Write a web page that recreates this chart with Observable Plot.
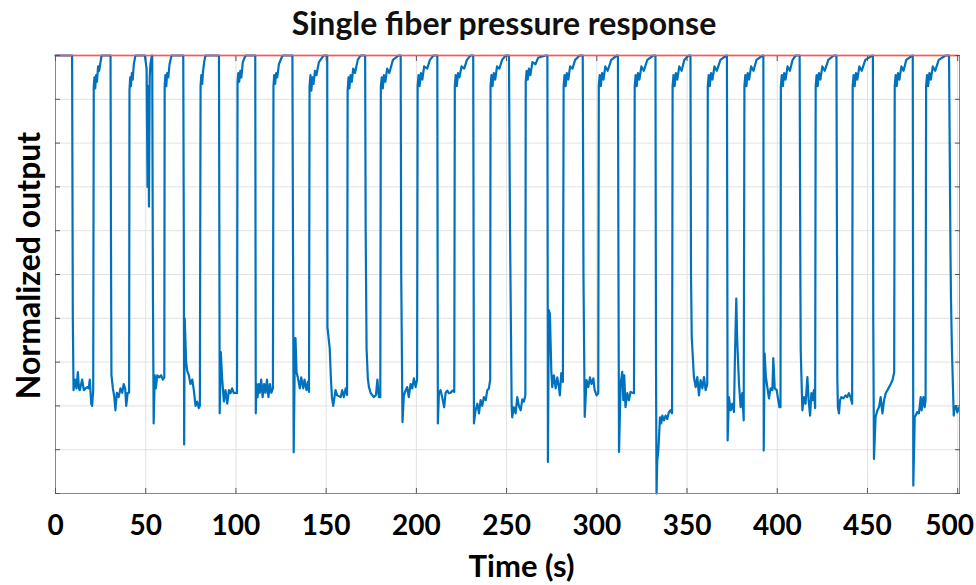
<!DOCTYPE html>
<html><head><meta charset="utf-8">
<script src="https://cdn.jsdelivr.net/npm/d3@7"></script>
<script src="https://cdn.jsdelivr.net/npm/@observablehq/plot@0.6"></script>
<style>
body{margin:0;background:#fff;font-family:Lato,sans-serif}
#title{width:976px;height:50px;box-sizing:border-box;padding-left:32px;text-align:center;font-family:Lato,sans-serif;font-weight:bold;font-size:32px;line-height:46px;color:#111}
</style></head><body>
<div id="title"></div>
<div id="chart"></div>
<script>
const titleText = "Single fiber pressure response";
const xLabel = "Time (s)";
const yLabel = "Normalized output";
const xTicks = [0, 50, 100, 150, 200, 250, 300, 350, 400, 450, 500];
const yGrid = [0, 0.1, 0.2, 0.3, 0.4, 0.5, 0.6, 0.7, 0.8, 0.9, 1.0];
const referenceLevel = [1];

// [time (s), normalized output], one array per press cycle
const cycle00 = [[0,1.0],[9.2,1.0],[9.6,0.4],[10.0,0.236],[10.8,0.26],[11.6,0.24],[12.4,0.277],[13.0,0.24],[13.5,0.236],[14.2,0.25],[14.8,0.26],[15.7,0.236],[16.6,0.24],[17.6,0.243],[18.4,0.24],[19.0,0.26],[19.8,0.205],[20.3,0.20],[20.9,0.236],[21.2,0.93],[21.6,0.95],[22.0,0.925],[22.5,0.955],[23.0,0.94],[23.6,0.975],[24.2,0.965],[25.5,1.0],[30.3,1.0]];
const cycle01 = [[30.5,1.0],[30.8,0.5],[31.0,0.27],[31.8,0.24],[32.6,0.22],[33.2,0.19],[34.0,0.23],[35.0,0.22],[36.0,0.24],[37.0,0.23],[37.8,0.25],[38.6,0.24],[39.2,0.20],[40.0,0.23],[40.8,0.23],[41.0,0.92],[41.4,0.95],[41.8,0.93],[42.3,0.96],[42.8,0.945],[43.4,0.98],[44.3,1.0],[48.5,1.0],[49.5,1.0],[50.5,0.97],[51.0,0.70],[51.4,0.93],[51.8,0.655],[52.2,0.95],[52.6,0.98],[53.4,1.0]];
const cycle02 = [[53.6,1.0],[54.0,0.45],[54.4,0.16],[55.0,0.27],[55.6,0.24],[56.4,0.27],[57.5,0.265],[58.5,0.27],[59.5,0.26],[60.3,0.265],[60.5,0.93],[60.9,0.955],[61.4,0.93],[61.9,0.96],[62.5,0.95],[63.2,0.98],[64.3,1.0],[70.8,1.0]];
const cycle03 = [[71.1,0.6],[71.3,0.112],[71.6,0.40],[72.4,0.30],[73.0,0.28],[73.9,0.27],[74.8,0.25],[75.8,0.26],[76.7,0.235],[77.6,0.20],[78.5,0.21],[79.4,0.195],[80.0,0.20],[80.4,0.93],[80.8,0.955],[81.3,0.935],[81.8,0.965],[82.4,0.985],[83.1,1.0],[90.6,1.0]];
const cycle04 = [[91.0,0.183],[91.6,0.323],[92.4,0.26],[93.3,0.21],[94.2,0.236],[95.2,0.205],[96.1,0.236],[97.0,0.229],[97.9,0.24],[98.8,0.229],[99.8,0.23],[100.6,0.229],[100.9,0.94],[101.3,0.96],[101.8,0.94],[102.4,0.965],[103.0,0.95],[103.8,0.985],[105.3,1.0],[110.7,1.0]];
const cycle05 = [[111.0,0.183],[111.4,0.25],[112.0,0.22],[112.6,0.25],[113.2,0.23],[114.0,0.26],[114.8,0.22],[115.6,0.25],[116.4,0.23],[117.2,0.26],[118.0,0.22],[118.8,0.25],[119.6,0.23],[120.5,0.24],[120.8,0.93],[121.2,0.955],[121.7,0.935],[122.3,0.96],[122.9,0.95],[123.8,0.98],[125.8,1.0],[131.3,1.0]];
const cycle06 = [[131.6,0.6],[132.0,0.094],[132.6,0.30],[133.0,0.355],[133.6,0.277],[134.3,0.265],[135.4,0.24],[136.2,0.265],[137.3,0.24],[138.0,0.26],[139.1,0.236],[139.9,0.255],[140.5,0.232],[140.8,0.93],[141.3,0.955],[141.8,0.92],[142.4,0.95],[143.0,0.935],[143.8,0.965],[144.6,0.955],[146,0.985],[148.6,1.0],[150.6,1.0]];
const cycle07 = [[150.7,0.38],[152.0,0.33],[152.6,0.265],[153.2,0.22],[153.9,0.20],[155.2,0.236],[156.1,0.224],[158.0,0.22],[158.9,0.236],[159.8,0.22],[160.8,0.24],[161.6,0.225],[161.9,0.92],[162.4,0.95],[162.9,0.925],[163.5,0.955],[164.2,0.94],[165,0.97],[166,0.96],[167.5,0.99],[169.1,1.0],[171.6,1.0]];
const cycle08 = [[171.9,0.6],[172.4,0.33],[173.1,0.263],[173.7,0.243],[174.6,0.23],[176.4,0.22],[177.6,0.225],[178.4,0.26],[179.2,0.22],[180.0,0.22],[180.3,0.93],[180.8,0.95],[181.4,0.925],[182.0,0.955],[182.8,0.94],[183.8,0.97],[185,0.96],[187,0.99],[190.1,1.0],[191.3,1.0]];
const cycle09 = [[191.6,0.5],[192.3,0.163],[193.0,0.22],[193.5,0.23],[194.9,0.243],[195.8,0.22],[196.8,0.25],[197.7,0.24],[198.6,0.263],[199.6,0.243],[200.4,0.26],[200.7,0.93],[201.2,0.955],[201.8,0.93],[202.5,0.96],[203.3,0.945],[204.3,0.975],[206,0.97],[207.5,0.99],[209.5,1.0],[211.6,1.0]];
const cycle10 = [[211.9,0.16],[212.5,0.229],[213.4,0.236],[214.3,0.22],[215.4,0.197],[216.2,0.23],[217.1,0.235],[218.0,0.229],[219.0,0.23],[220.0,0.235],[221.0,0.232],[221.3,0.93],[221.8,0.955],[222.4,0.93],[223.1,0.96],[223.9,0.95],[225,0.975],[226.5,0.97],[228,0.99],[230,1.0],[231.5,1.0]];
const cycle11 = [[231.9,0.16],[232.8,0.19],[233.8,0.205],[234.7,0.183],[235.6,0.213],[236.5,0.20],[237.4,0.22],[238.4,0.213],[239.3,0.236],[240.2,0.24],[240.9,0.26],[241.1,0.93],[241.6,0.955],[242.2,0.93],[242.9,0.96],[243.7,0.945],[244.7,0.975],[246,0.97],[247.5,0.99],[249.5,1.0],[251.3,1.0]];
const cycle12 = [[251.9,0.6],[252.8,0.2],[253.1,0.174],[254.0,0.197],[255.0,0.183],[255.9,0.22],[256.8,0.20],[257.8,0.19],[258.7,0.215],[259.6,0.21],[260.4,0.224],[260.6,0.94],[261.1,0.965],[261.7,0.945],[262.4,0.97],[263.2,0.955],[264.3,0.985],[266,0.98],[267.5,0.995],[271.6,1.0],[272.6,1.0]];
const cycle13 = [[272.8,0.4],[272.9,0.072],[273.4,0.419],[274.0,0.41],[274.8,0.277],[275.3,0.243],[276.2,0.27],[277.2,0.24],[278.1,0.265],[279.0,0.243],[279.5,0.224],[280.3,0.275],[281.2,0.255],[281.6,0.93],[282.1,0.955],[282.7,0.93],[283.4,0.96],[284.2,0.945],[285.2,0.975],[286.5,0.97],[288,0.99],[290.5,1.0],[292.2,1.0]];
const cycle14 = [[292.6,0.5],[293.3,0.175],[294.3,0.259],[295.3,0.243],[296.2,0.265],[297.1,0.25],[298.1,0.263],[298.8,0.236],[299.9,0.224],[300.8,0.229],[301.1,0.93],[301.6,0.955],[302.2,0.93],[302.9,0.96],[303.7,0.945],[304.7,0.975],[306,0.965],[308,0.99],[311.2,1.0],[311.7,1.0]];
const cycle15 = [[312.0,0.5],[312.3,0.095],[313.2,0.25],[314.1,0.278],[314.7,0.213],[315.2,0.27],[315.9,0.197],[316.9,0.229],[317.8,0.213],[318.7,0.232],[319.7,0.23],[320.6,0.229],[321.0,0.93],[321.5,0.955],[322.1,0.93],[322.8,0.96],[323.6,0.945],[324.7,0.975],[326,0.965],[328,0.99],[331.3,1.0],[332.5,1.0]];
const cycle16 = [[332.8,0.3],[333.1,0.0],[333.5,0.075],[334.1,0.098],[335.0,0.174],[335.7,0.16],[336.3,0.178],[337.2,0.167],[338.1,0.178],[339.0,0.17],[339.9,0.185],[340.9,0.19],[341.7,0.183],[342.0,0.93],[342.5,0.955],[343.1,0.93],[343.8,0.96],[344.6,0.945],[345.7,0.975],[347,0.965],[348.5,0.99],[350.9,1.0],[351.9,1.0]];
const cycle17 = [[352.2,0.5],[352.6,0.358],[353.8,0.266],[354.8,0.243],[355.7,0.266],[356.6,0.224],[357.5,0.259],[358.5,0.24],[359.4,0.266],[360.3,0.236],[361.2,0.25],[361.5,0.93],[362.0,0.955],[362.6,0.93],[363.3,0.96],[364.1,0.945],[365.2,0.975],[366.5,0.965],[368.5,0.99],[371.8,1.0],[372.1,1.0]];
const cycle18 = [[372.5,0.121],[373.2,0.22],[374.2,0.19],[375.1,0.205],[376.0,0.186],[376.6,0.323],[377.3,0.445],[377.8,0.35],[378.8,0.25],[379.7,0.197],[380.6,0.229],[381.4,0.167],[381.8,0.93],[382.3,0.955],[382.9,0.93],[383.6,0.96],[384.4,0.945],[385.5,0.975],[386.8,0.965],[388.5,0.99],[391.9,1.0],[392.3,1.0]];
const cycle19 = [[392.5,0.098],[393.0,0.32],[393.7,0.266],[394.5,0.243],[395.4,0.217],[396.3,0.24],[397.3,0.236],[397.8,0.309],[398.6,0.24],[399.7,0.236],[400.4,0.217],[401.2,0.197],[401.8,0.197],[402.0,0.93],[402.5,0.955],[403.1,0.93],[403.8,0.96],[404.6,0.945],[405.7,0.975],[407,0.965],[408.5,0.99],[410.2,1.0],[412.4,1.0]];
const cycle20 = [[412.8,0.5],[413.0,0.327],[413.9,0.19],[414.8,0.22],[415.7,0.205],[416.7,0.266],[417.4,0.213],[418.2,0.178],[418.9,0.229],[419.6,0.213],[420.3,0.236],[421.0,0.195],[421.3,0.93],[421.8,0.955],[422.4,0.93],[423.1,0.96],[423.9,0.945],[425,0.975],[426.3,0.965],[428.3,0.99],[431.3,1.0],[432.8,1.0]];
const cycle21 = [[433.3,0.259],[433.6,0.197],[434.2,0.183],[434.8,0.213],[435.5,0.22],[436.6,0.217],[437.9,0.224],[438.8,0.22],[439.7,0.229],[440.6,0.22],[441.5,0.205],[441.8,0.93],[442.3,0.955],[442.9,0.93],[443.6,0.96],[444.4,0.945],[445.5,0.975],[446.8,0.965],[448.8,0.99],[452.7,1.0],[453.0,1.0]];
const cycle22 = [[453.2,0.4],[453.6,0.079],[454.5,0.175],[455.5,0.19],[456.4,0.197],[457.3,0.22],[458.3,0.183],[459.2,0.213],[460.1,0.229],[461.1,0.236],[462.0,0.243],[462.9,0.25],[463.9,0.259],[464.8,0.277],[465.1,0.93],[465.6,0.955],[466.2,0.93],[466.9,0.96],[467.7,0.945],[468.8,0.975],[470,0.965],[471.5,0.99],[474.9,1.0],[475.1,1.0]];
const cycle23 = [[475.4,0.018],[476.2,0.175],[476.7,0.178],[477.6,0.186],[478.5,0.183],[479.5,0.22],[480.0,0.19],[481.0,0.22],[481.7,0.197],[482.2,0.213],[482.5,0.93],[483.0,0.955],[483.6,0.93],[484.3,0.96],[485.1,0.945],[486.2,0.975],[487.5,0.965],[489.5,0.99],[493.3,1.0],[495.2,1.0]];
const cycle24 = [[496.0,0.55],[496.3,0.44],[496.8,0.33],[497.8,0.178],[498.3,0.197],[499.0,0.2],[499.8,0.185],[500.5,0.195]];

const cycles = [cycle00,cycle01,cycle02,cycle03,cycle04,cycle05,cycle06,cycle07,cycle08,cycle09,cycle10,cycle11,cycle12,cycle13,cycle14,cycle15,cycle16,cycle17,cycle18,cycle19,cycle20,cycle21,cycle22,cycle23,cycle24];
const data = cycles.flat().map(([t, v]) => ({t, v}));

document.getElementById("title").textContent = titleText;

const noLabel = () => "";
const tickStyle = {tickFormat: noLabel, label: null, tickSize: 5, stroke: "#555"};
const labelStyle = {anchor: "bottom", tickSize: 0, tickPadding: 22, fontSize: 28, fontWeight: "bold", label: null, fill: "#000"};

const chart = Plot.plot({
  width: 976,
  height: 535,
  marginTop: 5,
  marginLeft: 55,
  marginRight: 17,
  marginBottom: 92,
  x: {domain: [0, 501]},
  y: {domain: [0, 1]},
  style: {fontFamily: "Lato, sans-serif", background: "#fff", color: "#000"},
  marks: [
    Plot.gridX(xTicks, {stroke: "#e2e2e2", strokeOpacity: 1}),
    Plot.gridY(yGrid, {stroke: "#e2e2e2", strokeOpacity: 1}),
    Plot.line(data, {x: "t", y: "v", stroke: "#0072BD", strokeWidth: 2.2}),
    Plot.ruleY(referenceLevel, {stroke: "#ff1a1a", strokeWidth: 1.5}),
    Plot.frame({stroke: "#888"}),
    Plot.axisX(xTicks, {anchor: "bottom", dy: -5, ...tickStyle}),
    Plot.axisX(xTicks, {anchor: "top", dy: 5, ...tickStyle}),
    Plot.axisY(yGrid, {anchor: "left", dx: 5, ...tickStyle}),
    Plot.axisY(yGrid, {anchor: "right", dx: -5, ...tickStyle}),
    Plot.axisX(xTicks.slice(0, -1), labelStyle),
    Plot.axisX(xTicks.slice(-1), {...labelStyle, dx: -8}),
    Plot.text([xLabel], {frameAnchor: "bottom", dx: 14, dy: 74, text: d => d, textAnchor: "middle", lineAnchor: "middle", fontSize: 31, fontWeight: "bold", fill: "#000"}),
    Plot.text([yLabel], {frameAnchor: "left", dx: -26, dy: -9, rotate: -90, text: d => d, textAnchor: "middle", lineAnchor: "middle", fontSize: 32, fontWeight: "bold", fill: "#000"})
  ]
});
document.getElementById("chart").appendChild(chart);
</script>
</body></html>
